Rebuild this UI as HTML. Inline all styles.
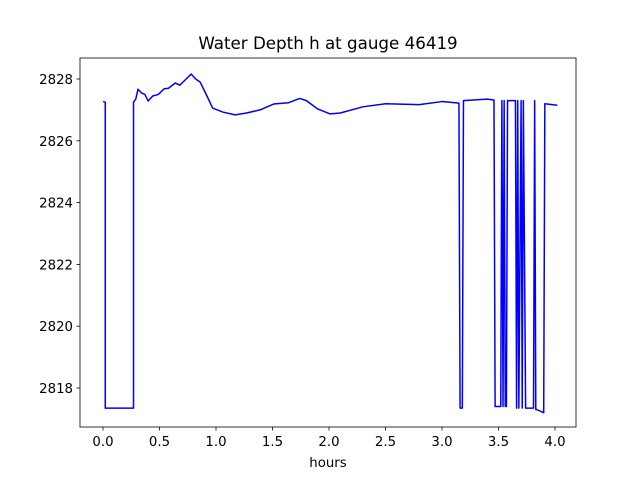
<!DOCTYPE html>
<html><head><meta charset="utf-8"><style>body{margin:0;background:#fff}svg{display:block}text{font-family:"DejaVu Sans","Liberation Sans",sans-serif}</style></head>
<body>
<svg id="c" width="640" height="480"></svg>
<script>
const times=[0,0.02,0.02,0.27,0.27,0.29,0.31,0.34,0.37,0.40,0.44,0.49,0.54,0.58,0.64,0.68,0.73,0.78,0.82,0.86,0.92,0.97,1.06,1.17,1.27,1.39,1.51,1.64,1.74,1.80,1.90,2.01,2.1,2.3,2.5,2.8,3.0,3.15,3.16,3.18,3.19,3.4,3.46,3.47,3.52,3.53,3.54,3.55,3.56,3.57,3.58,3.65,3.66,3.67,3.68,3.70,3.71,3.72,3.74,3.81,3.82,3.83,3.84,3.90,3.91,4.02];
const depths=[2827.27,2827.25,2817.35,2817.35,2827.25,2827.35,2827.67,2827.55,2827.5,2827.29,2827.45,2827.5,2827.68,2827.7,2827.87,2827.8,2827.98,2828.16,2828.0,2827.9,2827.45,2827.06,2826.93,2826.84,2826.9,2827.0,2827.19,2827.23,2827.37,2827.3,2827.03,2826.87,2826.9,2827.1,2827.2,2827.17,2827.27,2827.22,2817.35,2817.35,2827.3,2827.35,2827.32,2817.4,2817.4,2827.3,2817.4,2827.3,2817.4,2817.4,2827.3,2827.3,2817.35,2827.3,2817.35,2827.3,2817.35,2827.3,2817.35,2817.35,2827.3,2817.3,2817.3,2817.2,2827.2,2827.15];
const xTicks=[0,0.5,1.0,1.5,2.0,2.5,3.0,3.5,4.0];
const yTicks=[2818,2820,2822,2824,2826,2828];
const L=80,R=576,T=58,B=427;
const sx=t=>103+t*113, sy=h=>79+(2828-h)*30.9;
const svg=document.getElementById('c');const ns='http://www.w3.org/2000/svg';
function mk(tag,a,txt){const e=document.createElementNS(ns,tag);for(const k in a)e.setAttribute(k,a[k]);if(txt!=null)e.textContent=txt;svg.appendChild(e);return e;}
const line=mk('polyline',{points:times.map((t,i)=>sx(t)+','+sy(depths[i])).join(' '),fill:'none',stroke:'#0000ff','stroke-width':1.5,'stroke-linejoin':'round'});


const fr=mk('rect',{x:L,y:T,width:R-L,height:B-T,fill:'none',stroke:'#000','stroke-width':0.8});


xTicks.forEach(v=>{const x=sx(v);mk('line',{x1:x,x2:x,y1:B,y2:B+3.5,stroke:'#000','stroke-width':0.8});
const t=mk('text',{x:x,y:B+19,'font-size':13.3,'text-anchor':'middle'},v.toFixed(1));

});
yTicks.forEach(v=>{const y=sy(v);mk('line',{x1:L-3.5,x2:L,y1:y,y2:y,stroke:'#000','stroke-width':0.8});
const t=mk('text',{x:L-7,y:y+5,'font-size':13.3,'text-anchor':'end'},v);

});
const xt=mk('text',{x:(L+R)/2,y:467,'font-size':13.3,'text-anchor':'middle'},'hours');


const ti=mk('text',{x:(L+R)/2,y:49,'font-size':16.7,'text-anchor':'middle'},'Water Depth h at gauge 46419');


</script>
</body></html>
